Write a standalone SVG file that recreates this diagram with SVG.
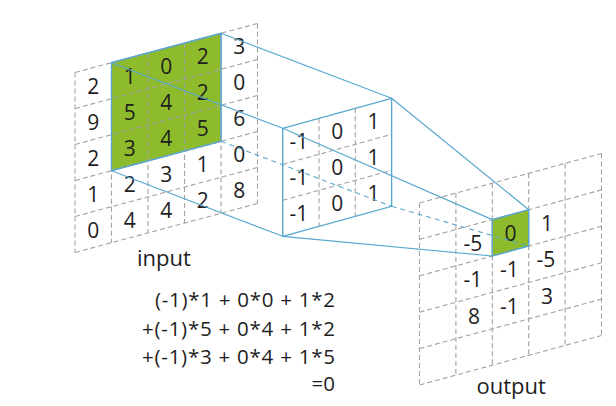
<svg xmlns="http://www.w3.org/2000/svg" width="616" height="406" viewBox="0 0 616 406">
<style>
.grid{stroke:#a3a3a3;stroke-width:1.1;stroke-dasharray:5 3;fill:none}
.green{fill:#8dbb2b;stroke:#5aa8cf;stroke-width:1.2}
.kb{fill:none;stroke:#5aa8cf;stroke-width:1.4}
.conn{stroke:#5aa8cf;stroke-width:1.2;fill:none}
.connd{stroke:#5aa8cf;stroke-width:1.1;fill:none;stroke-dasharray:5 4}
.n{font-family:"Open Sans","Noto Sans",sans-serif;font-size:21px;fill:#1e1e1e;text-anchor:middle}
.lbl{font-family:"Open Sans","Noto Sans",sans-serif;font-size:22px;fill:#1e1e1e}
.f{font-family:"Open Sans","Noto Sans",sans-serif;font-size:20.5px;fill:#1e1e1e;text-anchor:end}
</style>
<rect width="616" height="406" fill="#ffffff"/>

<g id="input">
  <polygon class="green" points="111.5,62.7 221,33.3 221,141.3 111.5,170.7"/>
  <g class="grid">
    <line x1="75" y1="72.5" x2="75" y2="252.5"/>
    <line x1="111.5" y1="62.7" x2="111.5" y2="242.7"/>
    <line x1="148" y1="52.9" x2="148" y2="232.9"/>
    <line x1="184.5" y1="43.1" x2="184.5" y2="223.1"/>
    <line x1="221" y1="33.3" x2="221" y2="213.3"/>
    <line x1="257.5" y1="23.5" x2="257.5" y2="203.5"/>
    <line x1="75" y1="72.5" x2="257.5" y2="23.5"/>
    <line x1="75" y1="108.5" x2="257.5" y2="59.5"/>
    <line x1="75" y1="144.5" x2="257.5" y2="95.5"/>
    <line x1="75" y1="180.5" x2="257.5" y2="131.5"/>
    <line x1="75" y1="216.5" x2="257.5" y2="167.5"/>
    <line x1="75" y1="252.5" x2="257.5" y2="203.5"/>
  </g>
  <polygon points="111.5,62.7 221,33.3 221,141.3 111.5,170.7" fill="none" stroke="#5aa8cf" stroke-width="1.2"/>
  <g class="n">
    <text x="93.25" y="93.6">2</text><text x="93.25" y="129.6">9</text><text x="93.25" y="165.6">2</text><text x="93.25" y="201.6">1</text><text x="93.25" y="237.6">0</text>
    <text x="129.75" y="83.8">1</text><text x="129.75" y="119.8">5</text><text x="129.75" y="155.8">3</text><text x="129.75" y="191.8">2</text><text x="129.75" y="227.8">4</text>
    <text x="166.25" y="74">0</text><text x="166.25" y="110">4</text><text x="166.25" y="146">4</text><text x="166.25" y="182">3</text><text x="166.25" y="218">4</text>
    <text x="202.75" y="64.2">2</text><text x="202.75" y="100.2">2</text><text x="202.75" y="136.2">5</text><text x="202.75" y="172.2">1</text><text x="202.75" y="208.2">2</text>
    <text x="239.25" y="54.4">3</text><text x="239.25" y="90.4">0</text><text x="239.25" y="126.4">6</text><text x="239.25" y="162.4">0</text><text x="239.25" y="198.4">8</text>
  </g>
  <text class="lbl" x="137" y="266">input</text>
</g>

<g id="kernel">
  <g class="grid">
    <line x1="319" y1="118.3" x2="319" y2="226.3"/>
    <line x1="355.3" y1="108.3" x2="355.3" y2="216.3"/>
    <line x1="282.7" y1="164.3" x2="391.6" y2="134.3"/>
    <line x1="282.7" y1="200.3" x2="391.6" y2="170.3"/>
  </g>
  <polygon class="kb" points="282.7,128.3 391.6,98.3 391.6,206.3 282.7,236.3"/>
  <g class="n">
    <text x="299" y="149.3">-1</text><text x="299" y="185.3">-1</text><text x="299" y="221.3">-1</text>
    <text x="337.15" y="139.3">0</text><text x="337.15" y="175.3">0</text><text x="337.15" y="211.3">0</text>
    <text x="373.45" y="129.3">1</text><text x="373.45" y="165.3">1</text><text x="373.45" y="201.3">1</text>
  </g>
</g>

<g id="output">
  <polygon class="green" points="492.3,219.6 528.7,209.7 528.7,246.1 492.3,256"/>
  <g class="grid">
    <line x1="419.5" y1="203" x2="419.5" y2="385"/>
    <line x1="455.9" y1="193.1" x2="455.9" y2="375.1"/>
    <line x1="492.3" y1="183.2" x2="492.3" y2="365.2"/>
    <line x1="528.7" y1="173.3" x2="528.7" y2="355.3"/>
    <line x1="565.1" y1="163.4" x2="565.1" y2="345.4"/>
    <line x1="601.5" y1="153.5" x2="601.5" y2="335.5"/>
    <line x1="419.5" y1="203" x2="601.5" y2="153.5"/>
    <line x1="419.5" y1="239.4" x2="601.5" y2="189.9"/>
    <line x1="419.5" y1="275.8" x2="601.5" y2="226.3"/>
    <line x1="419.5" y1="312.2" x2="601.5" y2="262.7"/>
    <line x1="419.5" y1="348.6" x2="601.5" y2="299.1"/>
    <line x1="419.5" y1="385" x2="601.5" y2="335.5"/>
  </g>
  <polygon points="492.3,219.6 528.7,209.7 528.7,246.1 492.3,256" fill="none" stroke="#5aa8cf" stroke-width="1.2"/>
  <g class="n">
    <text x="473" y="250.75">-5</text><text x="473" y="287.15">-1</text><text x="474.1" y="323.55">8</text>
    <text x="510.5" y="240.85">0</text><text x="509.5" y="277.25">-1</text><text x="509.5" y="313.65">-1</text>
    <text x="546.9" y="230.95">1</text><text x="545.9" y="267.35">-5</text><text x="546.9" y="303.75">3</text>
  </g>
  <text class="lbl" x="476.5" y="394">output</text>
</g>

<g id="connectors">
  <line class="conn" x1="111.5" y1="62.7" x2="282.7" y2="128.3"/>
  <line class="conn" x1="221" y1="33.3" x2="391.6" y2="98.3"/>
  <line class="conn" x1="111.5" y1="170.7" x2="282.7" y2="236.3"/>
  <line class="connd" x1="221" y1="141.3" x2="391.6" y2="206.3"/>
  <line class="conn" x1="282.7" y1="128.3" x2="492.3" y2="219.6"/>
  <line class="conn" x1="391.6" y1="98.3" x2="528.7" y2="209.7"/>
  <line class="conn" x1="282.7" y1="236.3" x2="492.3" y2="256"/>
  <line class="connd" x1="391.6" y1="206.3" x2="528.7" y2="246.1"/>
</g>

<g id="formula" class="f" xml:space="preserve">
  <text x="335" y="307" textLength="180" lengthAdjust="spacing">(-1)*1 +  0*0 + 1*2</text>
  <text x="335" y="335.5" textLength="193" lengthAdjust="spacing">+(-1)*5 +  0*4 + 1*2</text>
  <text x="335" y="364" textLength="193" lengthAdjust="spacing">+(-1)*3 +  0*4 + 1*5</text>
  <text x="335" y="391">=0</text>
</g>
</svg>
